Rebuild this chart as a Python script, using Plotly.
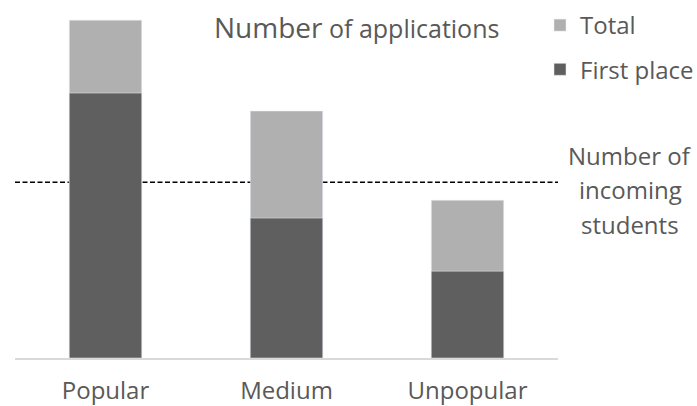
import plotly.graph_objects as go

categories = ["Popular", "Medium", "Unpopular"]
total = [100, 73.1, 46.7]
first_place = [78.4, 41.4, 25.7]
incoming_students = 52
incoming_label = ["Number of", "incoming", "students"]

FONT = "Open Sans, sans-serif"
TXT = "#595959"
YMAX = 103
L, R, T, B = 15, 139, 10, 48
PW, PH = 697 - L - R, 406 - T - B


def px_x(x):
    return (x - L) / PW


def px_y(y):
    return (406 - B - y) / PH


fig = go.Figure()
fig.add_trace(go.Bar(x=categories, y=total, name="Total", marker_color="#b0b0b0",
                     width=0.4, legendgroup="a"))
fig.add_trace(go.Bar(x=categories, y=first_place, name="First place", marker_color="#5f5f5f",
                     width=0.4, legendgroup="b"))

fig.add_shape(type="line", xref="paper", x0=0, x1=1, y0=incoming_students, y1=incoming_students,
              line=dict(color="black", width=1.6, dash="5px,2.5px"), layer="below")

for i, line in enumerate(incoming_label):
    fig.add_annotation(xref="paper", yref="paper", x=px_x(630),
                       y=px_y(155 + 34.5 * i),
                       text=line, showarrow=False,
                       xanchor="center", yanchor="middle",
                       font=dict(family=FONT, size=24, color=TXT))

fig.add_annotation(x=px_x(356), y=px_y(27),
                   xref="paper", yref="paper",
                   text="<span style='font-size:28px'>Number</span> of applications",
                   showarrow=False, xanchor="center", yanchor="middle",
                   font=dict(family=FONT, size=25, color=TXT))

fig.update_layout(
    width=697, height=406,
    margin=dict(l=L, r=R, t=T, b=B, autoexpand=False),
    barmode="overlay",
    plot_bgcolor="white", paper_bgcolor="white",
    showlegend=True,
    legend=dict(x=px_x(540), y=px_y(3), xanchor="left", yanchor="top",
                font=dict(family=FONT, size=24, color=TXT),
                tracegroupgap=10, itemwidth=30, bgcolor="rgba(0,0,0,0)"),
    xaxis=dict(showline=True, linecolor="#d9d9d9", linewidth=2, ticks="",
               tickfont=dict(family=FONT, size=24, color=TXT), showgrid=False,
               ticklabelstandoff=10),
    yaxis=dict(range=[0, YMAX], visible=False, showgrid=False),
    font=dict(family=FONT),
)

fig.write_html("out.html", config={"displayModeBar": False},
               post_script="document.body.style.margin='0';")
